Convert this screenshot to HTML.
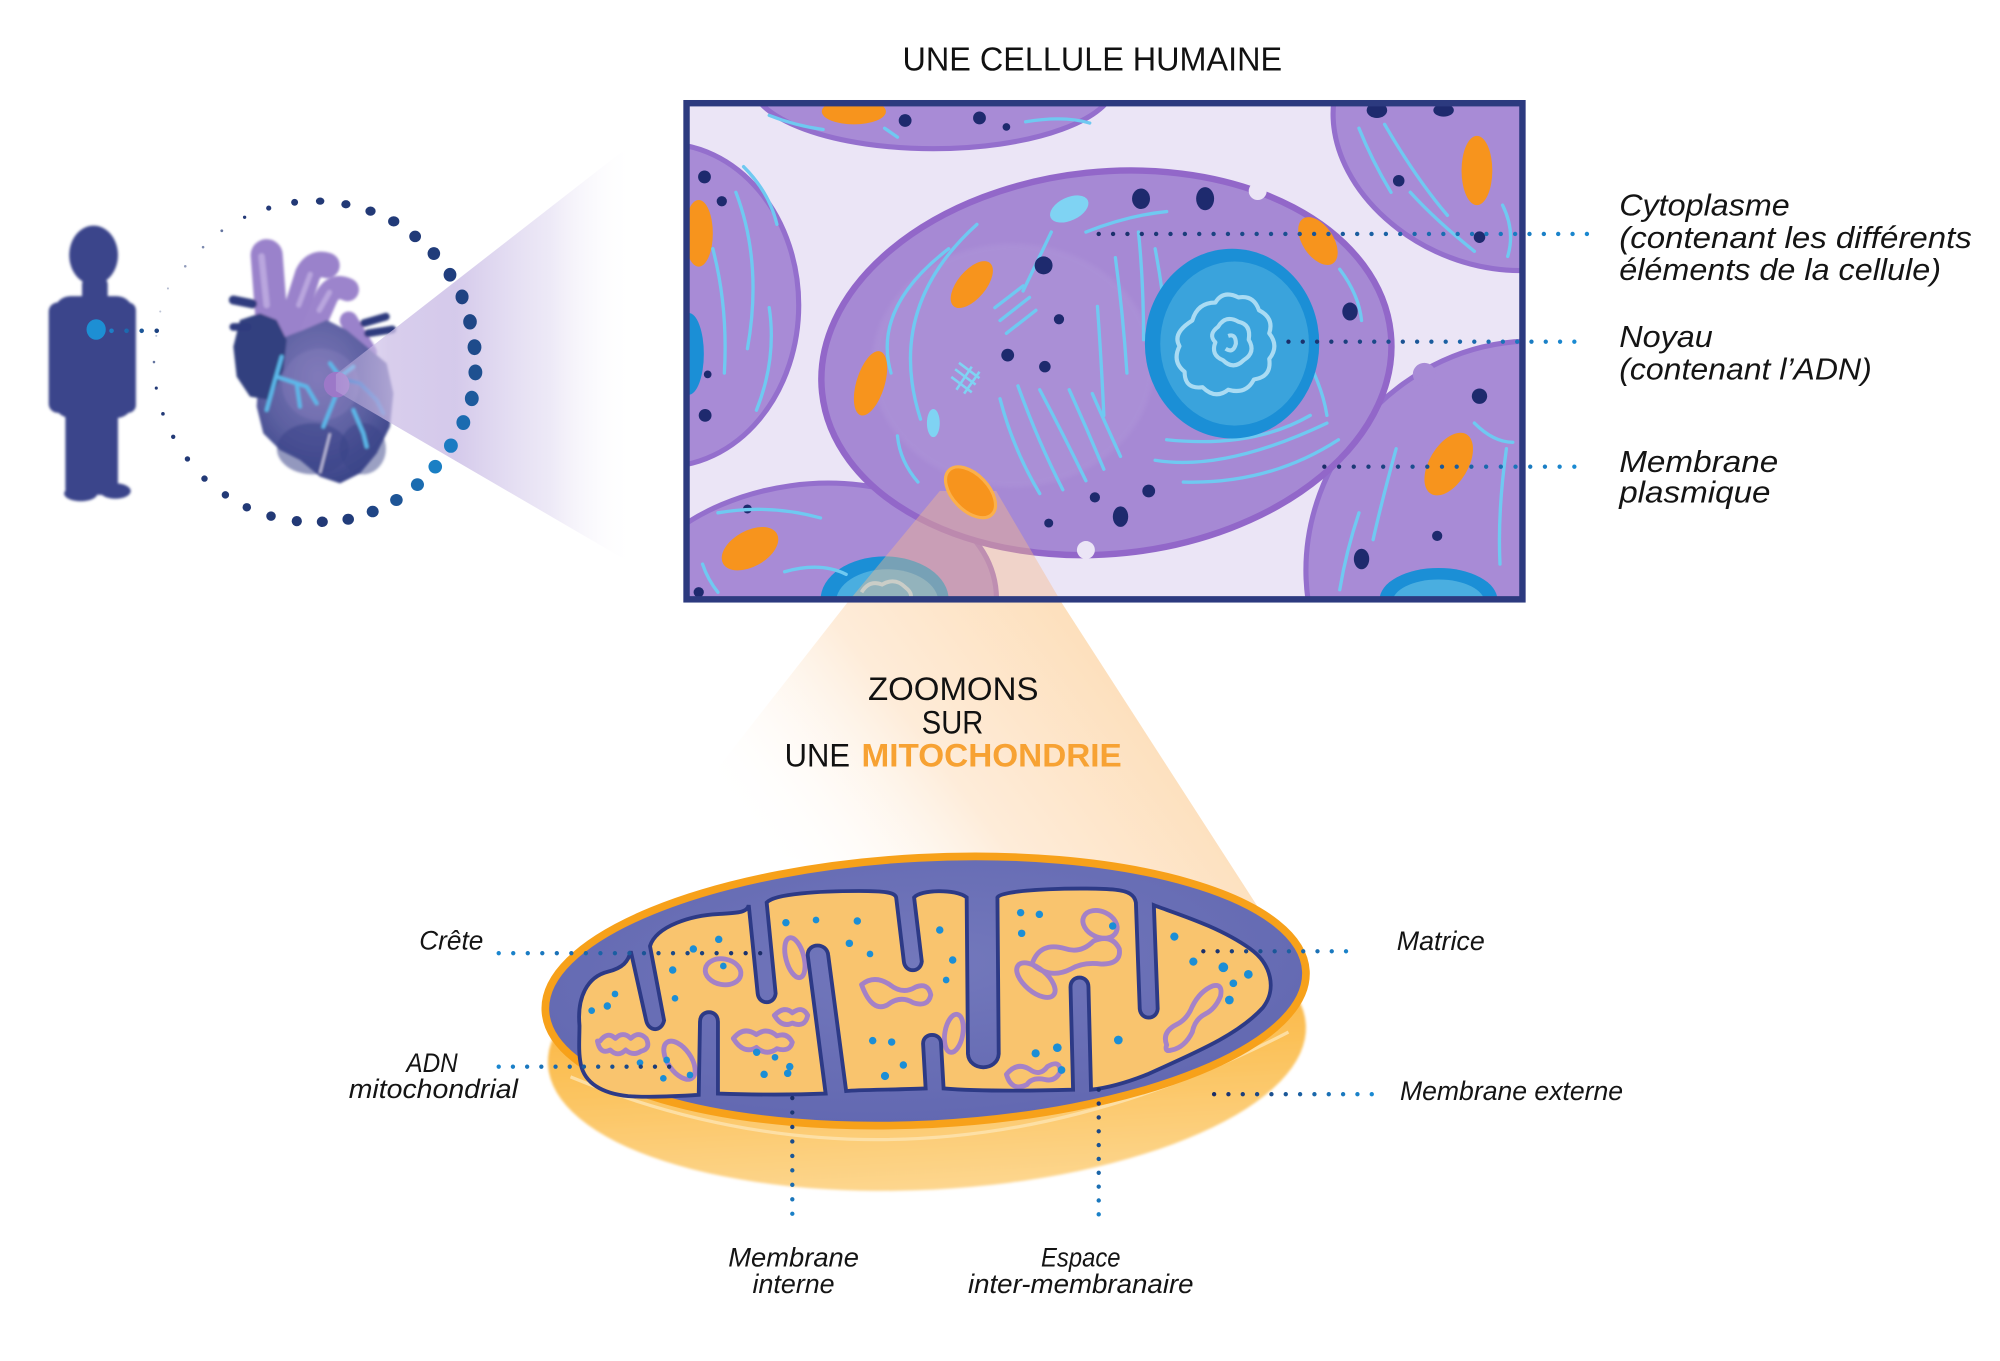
<!DOCTYPE html>
<html><head><meta charset="utf-8"><style>
html,body{margin:0;padding:0;background:#fff;}
svg{display:block;}
text{font-family:"Liberation Sans",sans-serif;}
.it{font-style:italic;fill:#141414;}
.tt{fill:#111;}
</style></head><body>
<svg width="2000" height="1361" viewBox="0 0 1560 1061.6" preserveAspectRatio="none" xmlns="http://www.w3.org/2000/svg">
<defs>
 <filter id="soft" x="-10%" y="-10%" width="120%" height="120%"><feGaussianBlur stdDeviation="1.1"/></filter>
 <filter id="soft2" x="-10%" y="-10%" width="120%" height="120%"><feGaussianBlur stdDeviation="1.8"/></filter>
 <linearGradient id="pcone" gradientUnits="userSpaceOnUse" x1="262" y1="0" x2="495" y2="0">
   <stop offset="0" stop-color="#c6b6e4" stop-opacity="0.35"/>
   <stop offset="0.18" stop-color="#cbbde6" stop-opacity="0.75"/>
   <stop offset="0.4" stop-color="#cdc0e7" stop-opacity="0.85"/>
   <stop offset="0.72" stop-color="#d8cfed" stop-opacity="0.45"/>
   <stop offset="1" stop-color="#ffffff" stop-opacity="0"/>
 </linearGradient>
 <linearGradient id="ocone" gradientUnits="userSpaceOnUse" x1="860" y1="500" x2="610" y2="690">
   <stop offset="0" stop-color="#fddfbb"/>
   <stop offset="0.5" stop-color="#feecd9"/>
   <stop offset="1" stop-color="#ffffff" stop-opacity="0"/>
 </linearGradient>
 <linearGradient id="bodyg" x1="0" y1="0" x2="0" y2="1">
   <stop offset="0" stop-color="#f8a526"/>
   <stop offset="0.55" stop-color="#fbc159"/>
   <stop offset="1" stop-color="#fdd68e"/>
 </linearGradient>
 <radialGradient id="heartg" cx="0.45" cy="0.35" r="0.65">
   <stop offset="0" stop-color="#7d77b7"/>
   <stop offset="0.6" stop-color="#5c60a1"/>
   <stop offset="1" stop-color="#3b4589"/>
 </radialGradient>
 <radialGradient id="imsg" cx="0.5" cy="0.4" r="0.6">
   <stop offset="0" stop-color="#7378bc"/>
   <stop offset="1" stop-color="#6268b1"/>
 </radialGradient>
 <linearGradient id="gCyto" gradientUnits="userSpaceOnUse" x1="857" y1="0" x2="1245" y2="0"><stop offset="0" stop-color="#1b2d68"/><stop offset="1" stop-color="#1a8ad2"/></linearGradient>
 <linearGradient id="gNoy" gradientUnits="userSpaceOnUse" x1="1005" y1="0" x2="1228" y2="0"><stop offset="0" stop-color="#1b2d68"/><stop offset="1" stop-color="#1a8ad2"/></linearGradient>
 <linearGradient id="gMem" gradientUnits="userSpaceOnUse" x1="1033" y1="0" x2="1228" y2="0"><stop offset="0" stop-color="#1b2d68"/><stop offset="1" stop-color="#1a8ad2"/></linearGradient>
 <linearGradient id="gCre" gradientUnits="userSpaceOnUse" x1="389" y1="0" x2="593" y2="0"><stop offset="0" stop-color="#1a86cf"/><stop offset="1" stop-color="#1b2d68"/></linearGradient>
 <linearGradient id="gAdn" gradientUnits="userSpaceOnUse" x1="389" y1="0" x2="533" y2="0"><stop offset="0" stop-color="#1a86cf"/><stop offset="1" stop-color="#1b2d68"/></linearGradient>
 <linearGradient id="gMat" gradientUnits="userSpaceOnUse" x1="938" y1="0" x2="1061" y2="0"><stop offset="0" stop-color="#1b2d68"/><stop offset="1" stop-color="#1a8ad2"/></linearGradient>
 <linearGradient id="gExt" gradientUnits="userSpaceOnUse" x1="947" y1="0" x2="1070" y2="0"><stop offset="0" stop-color="#1b2d68"/><stop offset="1" stop-color="#1a8ad2"/></linearGradient>
 <linearGradient id="gMI" gradientUnits="userSpaceOnUse" x1="0" y1="856" x2="0" y2="958"><stop offset="0" stop-color="#1b2d68"/><stop offset="1" stop-color="#1a8ad2"/></linearGradient>
 <linearGradient id="gEsp" gradientUnits="userSpaceOnUse" x1="0" y1="850" x2="0" y2="958"><stop offset="0" stop-color="#1b2d68"/><stop offset="1" stop-color="#1a8ad2"/></linearGradient>
 <linearGradient id="gPer" gradientUnits="userSpaceOnUse" x1="86" y1="0" x2="135" y2="0"><stop offset="0" stop-color="#1d80c8"/><stop offset="1" stop-color="#1b2d68"/></linearGradient>
 <clipPath id="boxclip"><rect x="535" y="80" width="653" height="388"/></clipPath>
 <path id="mxp" d="M452 800 C450 778 458 762 474 758 C486 755 490 750 492 742 L504 796 C506 805 516 805 518 796 L507 738 C512 722 540 714 560 713 C575 712 583 712 584 706 L591 775 C592 784 604 784 605 775 L598 704 C604 697 640 695 670 695 C690 695 698 696 699 700 L705 750 C706 759 718 759 719 750 L713 700 C718 694 745 693 754 700 L755 822 C756 836 778 836 779 822 L778 700 C782 693 850 692 870 694 C880 695 885 698 886 704 L889 787 C890 796 902 796 903 787 L900 706 C915 712 950 722 975 740 C992 752 996 772 985 786 C965 808 930 822 895 838 C875 846 860 849 851 850 L849 770 C849 760 835 760 835 770 L837 850 C800 851 760 851 736 849 L734 814 C734 805 720 805 720 814 L722 849 C700 850 670 850 660 851 L646 745 C645 735 630 735 630 745 L644 853 C620 854 590 854 560 853 L560 797 C560 787 546 787 546 797 L545 854 C530 855 505 856 490 855 C470 853 456 845 453 830 C451 820 452 810 452 800 Z"/>
 <clipPath id="mx"><use href="#mxp"/></clipPath>
</defs>

<rect x="0" y="0" width="1560" height="1062" fill="#ffffff"/>

<!-- PERSON -->
<g fill="#3a448b" filter="url(#soft)">
 <ellipse cx="73" cy="199" rx="19" ry="23"/>
 <rect x="64" y="216" width="20" height="22" rx="6"/>
 <rect x="42" y="231" width="62" height="95" rx="13"/>
 <rect x="38" y="236" width="16" height="86" rx="7"/>
 <rect x="92" y="236" width="14" height="86" rx="6"/>
 <rect x="51" y="300" width="22" height="88" rx="7"/>
 <rect x="70" y="300" width="22" height="86" rx="7"/>
 <ellipse cx="63" cy="385" rx="13" ry="6"/>
 <ellipse cx="90" cy="383" rx="12" ry="6"/>
</g>
<ellipse cx="75" cy="257" rx="7.5" ry="8" fill="#1d8fd4"/>
<line x1="87" y1="258" x2="134" y2="258" stroke="url(#gPer)" stroke-width="3.6" stroke-linecap="round" stroke-dasharray="0 11.75"/>

<!-- HEART -->
<g filter="url(#soft)">
 <path d="M208 199 L212 252" stroke="#9a82cb" stroke-width="25" stroke-linecap="round" fill="none"/>
 <path d="M226 258 L240 214 Q245 204 255 207" stroke="#9a82cb" stroke-width="20" stroke-linecap="round" stroke-linejoin="round" fill="none"/>
 <path d="M241 263 L255 231 Q261 221 271 226" stroke="#9c84cc" stroke-width="18" stroke-linecap="round" stroke-linejoin="round" fill="none"/>
 <path d="M272 250 L287 275" stroke="#9a82cb" stroke-width="14" stroke-linecap="round" fill="none"/>
 <path d="M204 200 L208 238" stroke="#b9a6de" stroke-width="5" stroke-linecap="round" fill="none"/>
 <path d="M233 238 L242 214" stroke="#b9a6de" stroke-width="4" stroke-linecap="round" fill="none"/>
 <path d="M249 242 L257 228" stroke="#b9a6de" stroke-width="4" stroke-linecap="round" fill="none"/>
 <polygon points="202.8,280.8 215.8,265.2 236.6,257.4 254.8,249.6 270.4,257.4 286,270.4 301.6,283.4 306.8,306.8 304.2,332.8 293.8,353.6 280.8,369.2 265.2,377 249.6,371.8 234,358.8 218.4,351 205.4,338 200.2,317.2 201.5,296.4" fill="url(#heartg)"/>
 <ellipse cx="250" cy="300" rx="30" ry="28" fill="#8a80bf" opacity="0.35"/>
 <ellipse cx="244" cy="350" rx="28" ry="20" fill="#3a4388" opacity="0.55"/>
 <ellipse cx="283" cy="350" rx="18" ry="20" fill="#3a4388" opacity="0.5"/>
 <polygon points="187.2,249.6 202.8,244.4 215.8,249.6 223.6,265.2 221,288.6 210.6,312 195,309.4 184.6,293.8 182,270.4" fill="#33407f"/>
 <path d="M182 234 L197 237" stroke="#2e3a7e" stroke-width="7" stroke-linecap="round"/>
 <path d="M182 255 L193 255" stroke="#2e3a7e" stroke-width="6" stroke-linecap="round"/>
 <path d="M284 252 L301 247" stroke="#2e3a7e" stroke-width="6" stroke-linecap="round"/>
 <path d="M287 260 L306 257" stroke="#2e3a7e" stroke-width="6" stroke-linecap="round"/>
 <path d="M257.4 338 L249.6 369" stroke="#c9c6e3" stroke-width="1.6"/>
 <g stroke="#5cb8ea" stroke-width="3" fill="none" stroke-linecap="round" stroke-linejoin="round">
  <path d="M219.7 278.2 L214.5 296.4 L208 319.8"/>
  <path d="M215.8 293.8 L231.4 299 L234 317.2"/>
  <path d="M223.6 296.4 L239.2 301.6 L247 314.6"/>
  <path d="M257.4 283.4 L265.2 293.8 L275.6 286"/>
  <path d="M262.6 306.8 L257.4 319.8 L252.2 332.8"/>
  <path d="M275.6 319.8 L283.4 338 L286 348.4"/>
 </g>
 <path d="M270.4 296.4 L280.8 299 L293.8 312 L299 322.4" stroke="#2f80cf" stroke-width="3" fill="none" stroke-linecap="round"/>
</g>
<circle cx="262.6" cy="300" r="10" fill="#9c78c8"/>

<!-- PURPLE CONE -->
<polygon points="262,292 533,81 533,463 262,305" fill="url(#pcone)"/>

<!-- DOTTED CIRCLE -->
<g>
 <circle cx="173" cy="180" r="1.1" fill="#243a78" opacity="0.7"/>
 <circle cx="158.4" cy="192.8" r="1" fill="#243a78" opacity="0.6"/>
 <circle cx="144.5" cy="207.7" r="1" fill="#243a78" opacity="0.5"/>
 <circle cx="131" cy="225" r="0.8" fill="#243a78" opacity="0.35"/>
 <circle cx="125" cy="243" r="0.8" fill="#243a78" opacity="0.3"/>
 <circle cx="121.9" cy="262" r="0.8" fill="#243a78" opacity="0.3"/>
 <circle cx="190.8" cy="169.5" r="1.3" fill="#243a78"/>
 <circle cx="209.6" cy="162.3" r="2" fill="#243a78"/>
 <circle cx="229.8" cy="157.8" r="2.7" fill="#223976"/>
 <ellipse cx="249.7" cy="156.9" rx="3.3" ry="2.8" fill="#223976"/>
 <ellipse cx="269.8" cy="159.3" rx="3.6" ry="3.2" fill="#223976"/>
 <ellipse cx="289" cy="164.7" rx="4" ry="3.6" fill="#223976"/>
 <ellipse cx="307.1" cy="172.7" rx="4.4" ry="4" fill="#213a78"/>
 <ellipse cx="323.8" cy="184.4" rx="4.6" ry="4.5" fill="#213a78"/>
 <ellipse cx="338.4" cy="197.8" rx="4.9" ry="5" fill="#213c7a"/>
 <ellipse cx="351" cy="214.3" rx="5" ry="5.4" fill="#203e7e"/>
 <ellipse cx="360.4" cy="231.6" rx="5.1" ry="5.8" fill="#1f4282"/>
 <ellipse cx="366.6" cy="251" rx="5.3" ry="6" fill="#1f4686"/>
 <ellipse cx="370.1" cy="270.8" rx="5.4" ry="6.2" fill="#1e4b8b"/>
 <ellipse cx="370.8" cy="290.5" rx="5.4" ry="6.2" fill="#1e5090"/>
 <ellipse cx="368" cy="310.8" rx="5.4" ry="6" fill="#1d5a9c"/>
 <ellipse cx="361.4" cy="329.6" rx="5.4" ry="5.8" fill="#1b6bb0"/>
 <ellipse cx="351.7" cy="347.6" rx="5.4" ry="5.6" fill="#1a7bc2"/>
 <ellipse cx="339.5" cy="364" rx="5.3" ry="5.3" fill="#1a7fc4"/>
 <ellipse cx="325.6" cy="378" rx="5.1" ry="5" fill="#1b6cb0"/>
 <ellipse cx="309.2" cy="390" rx="4.9" ry="4.7" fill="#1e5596"/>
 <ellipse cx="290.7" cy="399" rx="4.7" ry="4.5" fill="#1f4585"/>
 <ellipse cx="271.6" cy="405" rx="4.5" ry="4.3" fill="#213c7a"/>
 <ellipse cx="251.4" cy="407" rx="4.3" ry="4.1" fill="#223976"/>
 <circle cx="231.5" cy="406.5" r="4" fill="#223976"/>
 <circle cx="211.4" cy="402.6" r="3.7" fill="#223976"/>
 <circle cx="192.5" cy="395.7" r="3.3" fill="#223976"/>
 <circle cx="175.8" cy="386" r="2.9" fill="#223976"/>
 <circle cx="159.5" cy="373.3" r="2.5" fill="#223976"/>
 <circle cx="146.2" cy="358" r="2.1" fill="#223976"/>
 <circle cx="135.1" cy="340.7" r="1.7" fill="#223976"/>
 <circle cx="127.1" cy="322.8" r="1.4" fill="#223976"/>
 <circle cx="121.9" cy="302.7" r="1.2" fill="#223976"/>
 <circle cx="120.1" cy="282.4" r="1" fill="#223976" opacity="0.7"/>
</g>

<!-- TITLE -->
<text x="704" y="55" font-size="26" textLength="296" lengthAdjust="spacingAndGlyphs" class="tt">UNE CELLULE HUMAINE</text>

<!-- ORANGE CONE (below box) -->
<polygon points="661,470 828,470 1006,746 520,650" fill="url(#ocone)"/>

<!-- CELL BOX -->
<g clip-path="url(#boxclip)">
 <rect x="535" y="80" width="653" height="388" fill="#ebe5f6"/>

 <!-- top cell -->
 <ellipse cx="728" cy="64" rx="142" ry="52" fill="#a88bd6" stroke="#946fcd" stroke-width="4"/>
 <ellipse cx="666" cy="87" rx="25" ry="10" fill="#f7941d"/>
 <circle cx="706" cy="94" r="5" fill="#1e2a6e"/>
 <circle cx="764" cy="92" r="5" fill="#1e2a6e"/>
 <circle cx="785" cy="99" r="3" fill="#1e2a6e"/>
 <g stroke="#6fc9f1" stroke-width="2.6" fill="none" stroke-linecap="round">
  <path d="M600 90 Q620 98 642 101"/><path d="M800 95 Q830 90 850 96"/><path d="M690 100 L700 107"/>
 </g>

 <!-- left cell -->
 <ellipse cx="518" cy="238" rx="105" ry="126" fill="#a88bd6" stroke="#946fcd" stroke-width="4"/>
 <ellipse cx="545" cy="182" rx="11" ry="26" fill="#f7941d"/>
 <ellipse cx="537" cy="276" rx="12" ry="32" fill="#1b8fd6"/>
 <circle cx="549.5" cy="138" r="5" fill="#1e2a6e"/>
 <circle cx="563" cy="157" r="4" fill="#1e2a6e"/>
 <circle cx="550" cy="324" r="5" fill="#1e2a6e"/>
 <circle cx="552" cy="292" r="3" fill="#1e2a6e"/>
 <g stroke="#6fc9f1" stroke-width="2.6" fill="none" stroke-linecap="round">
  <path d="M574 150 Q595 205 583 272"/><path d="M556 194 Q568 240 565 291"/><path d="M600 240 Q606 280 590 320"/><path d="M580 130 Q600 150 606 175"/>
 </g>

 <!-- top-right cell -->
 <ellipse cx="1160" cy="110" rx="125" ry="95" transform="rotate(25 1160 110)" fill="#a88bd6" stroke="#946fcd" stroke-width="4"/>
 <ellipse cx="1152" cy="133" rx="12" ry="27" fill="#f7941d"/>
 <ellipse cx="1074" cy="86" rx="8" ry="6" fill="#1e2a6e"/>
 <ellipse cx="1126" cy="86" rx="8" ry="5" fill="#1e2a6e"/>
 <circle cx="1091" cy="141" r="4.5" fill="#1e2a6e"/>
 <circle cx="1154" cy="185" r="4.5" fill="#1e2a6e"/>
 <g stroke="#6fc9f1" stroke-width="2.6" fill="none" stroke-linecap="round">
  <path d="M1080 97 Q1105 140 1129 168"/><path d="M1100 150 Q1120 172 1150 196"/><path d="M1172 160 Q1182 180 1176 200"/><path d="M1060 100 Q1070 125 1085 150"/>
 </g>

 <!-- bottom-left cell -->
 <ellipse cx="630" cy="478" rx="148" ry="100" transform="rotate(-8 630 478)" fill="#a88bd6" stroke="#946fcd" stroke-width="4"/>
 <ellipse cx="585" cy="428" rx="24" ry="14" transform="rotate(-29 585 428)" fill="#f7941d"/>
 <ellipse cx="690" cy="468" rx="50" ry="34" fill="#1b8fd6"/>
 <ellipse cx="692" cy="470" rx="40" ry="26" fill="#4aaee0"/>
 <path d="M672 462 q6 -10 16 -6 q10 -6 18 2 q8 6 2 12" stroke="#a9dbf3" stroke-width="3" fill="none"/>
 <circle cx="583" cy="397" r="3.5" fill="#1e2a6e"/>
 <circle cx="545" cy="462" r="4" fill="#1e2a6e"/>
 <g stroke="#6fc9f1" stroke-width="2.6" fill="none" stroke-linecap="round">
  <path d="M560 400 Q600 393 640 404"/><path d="M612 446 Q640 438 660 448"/><path d="M548 440 Q552 452 560 462"/>
 </g>

 <!-- right-bottom cell -->
 <ellipse cx="1180" cy="430" rx="170" ry="155" transform="rotate(-50 1180 430)" fill="#a88bd6" stroke="#946fcd" stroke-width="4"/>
 <circle cx="1111" cy="292" r="9" fill="#a88bd6"/>
 <ellipse cx="1130" cy="362" rx="27" ry="15" transform="rotate(121 1130 362)" fill="#f7941d"/>
 <ellipse cx="1122" cy="468" rx="46" ry="25" fill="#1b8fd6"/>
 <ellipse cx="1122" cy="470" rx="36" ry="18" fill="#4aaee0"/>
 <circle cx="1154" cy="309" r="6" fill="#1e2a6e"/>
 <ellipse cx="1062" cy="436" rx="6" ry="8" fill="#1e2a6e"/>
 <circle cx="1121" cy="418" r="4" fill="#1e2a6e"/>
 <g stroke="#6fc9f1" stroke-width="2.6" fill="none" stroke-linecap="round">
  <path d="M1089 350 Q1078 390 1071 421"/><path d="M1175 350 Q1168 400 1170 440"/><path d="M1060 400 Q1050 430 1045 460"/><path d="M1150 330 Q1165 345 1180 345"/>
 </g>

 <!-- MAIN CELL -->
 <ellipse cx="863" cy="283" rx="223" ry="149" transform="rotate(-6 863 283)" fill="#a689d4" stroke="#9267c9" stroke-width="5"/>
 <ellipse cx="790" cy="285" rx="110" ry="95" fill="#b39cdc" opacity="0.35" filter="url(#soft2)"/>
 <circle cx="981" cy="149" r="7" fill="#ebe5f6"/>
 <circle cx="847" cy="429" r="7" fill="#ebe5f6"/>

 <g stroke="#6fc9f1" stroke-width="2.6" fill="none" stroke-linecap="round">
  <path d="M762 175 Q690 240 718 327"/>
  <path d="M740 194 Q680 240 695 291"/>
  <path d="M820 181 L798 227"/>
  <path d="M776 240 L798 223"/><path d="M780 250 L803 232"/><path d="M785 260 L808 242"/>
  <path d="M780 311 Q790 350 811 385"/>
  <path d="M794 301 Q810 345 829 382"/>
  <path d="M811 304 Q830 340 847 375"/>
  <path d="M834 304 Q848 335 861 366"/>
  <path d="M852 307 Q862 330 874 356"/>
  <path d="M856 239 Q859 280 861 324"/>
  <path d="M870 201 Q876 245 879 291"/>
  <path d="M888 181 Q892 220 892 265"/>
  <path d="M901 194 Q907 225 910 259"/>
  <path d="M901 359 Q955 368 1035 330"/>
  <path d="M923 376 Q990 378 1044 343"/>
  <path d="M910 343 Q977 350 1022 324"/>
  <path d="M1022 285 Q1032 305 1035 324"/>
  <path d="M847 181 Q880 168 910 165"/>
  <path d="M700 340 Q702 360 716 376"/>
  <path d="M1045 210 Q1060 230 1062 250"/>
 </g>
 <g stroke="#7fd3f3" stroke-width="2" fill="none">
  <path d="M745 288 L761 300"/><path d="M742 294 L758 306"/><path d="M748 283 L764 295"/>
  <path d="M746 304 L758 286"/><path d="M752 307 L764 290"/>
 </g>
 <ellipse cx="834" cy="163" rx="16" ry="9" transform="rotate(-25 834 163)" fill="#7fd3f3"/>
 <ellipse cx="728" cy="330" rx="5" ry="11" fill="#7fd3f3"/>

 <!-- nucleus -->
 <ellipse cx="961" cy="268" rx="68" ry="74" fill="#1b8fd6"/>
 <ellipse cx="963" cy="268" rx="58" ry="64" fill="#3aa3dc"/>
 <g stroke="#a9dbf3" stroke-width="3.2" fill="none" stroke-linejoin="round">
  <path d="M930 250 q4 -14 18 -14 q6 -10 18 -4 q12 -2 16 10 q12 6 8 18 q8 10 0 20 q2 14 -12 16 q-6 12 -20 8 q-10 8 -20 -2 q-14 2 -14 -12 q-10 -8 -4 -20 q-6 -10 10 -20z"/>
  <path d="M950 255 q6 -10 16 -4 q10 2 8 14 q6 10 -4 16 q-8 8 -16 0 q-10 -4 -6 -14 q-6 -6 2 -12z"/>
  <path d="M958 262 q6 -2 6 6 q-2 8 -8 4"/>
 </g>

 <!-- dark dots -->
 <g fill="#1e2a6e">
  <ellipse cx="890" cy="155" rx="7" ry="8"/>
  <ellipse cx="940" cy="155" rx="7" ry="9"/>
  <circle cx="814" cy="207" r="7"/>
  <ellipse cx="1053" cy="243" rx="6" ry="7"/>
  <circle cx="826" cy="249" r="4"/>
  <circle cx="786" cy="277" r="5"/>
  <circle cx="815" cy="286" r="4.5"/>
  <circle cx="896" cy="383" r="5"/>
  <ellipse cx="874" cy="403" rx="6" ry="8"/>
  <circle cx="854" cy="388" r="4"/>
  <circle cx="818" cy="408" r="3.5"/>
 </g>

 <!-- mitochondria main cell -->
 <ellipse cx="1028" cy="188" rx="21" ry="12" transform="rotate(56 1028 188)" fill="#f7941d"/>
 <ellipse cx="758" cy="222" rx="22" ry="11" transform="rotate(-50 758 222)" fill="#f7941d"/>
 <ellipse cx="679" cy="299" rx="26" ry="11" transform="rotate(107 679 299)" fill="#f7941d"/>

 <!-- orange overlay cone inside box -->
 <polygon points="733,383 777,383 828,470 661,470" fill="#f7b98a" opacity="0.42"/>
 <ellipse cx="757" cy="384" rx="24" ry="14" transform="rotate(46 757 384)" fill="#f7941d" stroke="#fbb04a" stroke-width="2.5"/>
</g>
<rect x="535.5" y="80.5" width="652" height="387" fill="none" stroke="#2c3a7f" stroke-width="5"/>

<!-- right dotted connectors -->
<line x1="857" y1="182.5" x2="1245" y2="182.5" stroke="url(#gCyto)" stroke-width="3.4" stroke-linecap="round" stroke-dasharray="0 11.2"/>
<line x1="1005" y1="266.5" x2="1228" y2="266.5" stroke="url(#gNoy)" stroke-width="3.4" stroke-linecap="round" stroke-dasharray="0 11.15"/>
<line x1="1033" y1="364" x2="1228" y2="364" stroke="url(#gMem)" stroke-width="3.4" stroke-linecap="round" stroke-dasharray="0 11.47"/>

<!-- right labels -->
<text class="it" x="1263" y="168" font-size="24" textLength="133" lengthAdjust="spacingAndGlyphs">Cytoplasme</text>
<text class="it" x="1263" y="193.5" font-size="24" textLength="275" lengthAdjust="spacingAndGlyphs">(contenant les différents</text>
<text class="it" x="1263" y="218.5" font-size="24" textLength="251" lengthAdjust="spacingAndGlyphs">éléments de la cellule)</text>
<text class="it" x="1263" y="270.5" font-size="24" textLength="73" lengthAdjust="spacingAndGlyphs">Noyau</text>
<text class="it" x="1263" y="296" font-size="24" textLength="197" lengthAdjust="spacingAndGlyphs">(contenant l’ADN)</text>
<text class="it" x="1263" y="368" font-size="24" textLength="124" lengthAdjust="spacingAndGlyphs">Membrane</text>
<text class="it" x="1263" y="392" font-size="24" textLength="118" lengthAdjust="spacingAndGlyphs">plasmique</text>

<!-- ZOOMONS text -->
<text class="tt" x="677" y="546" font-size="25" textLength="133" lengthAdjust="spacingAndGlyphs">ZOOMONS</text>
<text class="tt" x="719" y="572" font-size="25" textLength="48" lengthAdjust="spacingAndGlyphs">SUR</text>
<text class="tt" x="612" y="598" font-size="25" textLength="51" lengthAdjust="spacingAndGlyphs">UNE</text>
<text x="672" y="598" font-size="25" font-weight="bold" fill="#f7a233" textLength="203" lengthAdjust="spacingAndGlyphs">MITOCHONDRIE</text>

<!-- MITOCHONDRION -->
<ellipse cx="723" cy="815" rx="296" ry="113" transform="rotate(-3 723 815)" fill="url(#bodyg)" filter="url(#soft)"/>
<path d="M445 840 Q719 953 1005 805" stroke="#fde3ae" stroke-width="2.5" fill="none" opacity="0.85"/>
<ellipse cx="722" cy="773" rx="297" ry="104" transform="rotate(-3 722 773)" fill="url(#imsg)" stroke="#f7a11a" stroke-width="6"/>
<use href="#mxp" fill="#f9c46e"/>

<g clip-path="url(#mx)">
 <g stroke="#9b7bd1" stroke-width="3.8" fill="none" opacity="0.9" stroke-linejoin="round">
  <ellipse cx="564" cy="758" rx="14" ry="10" transform="rotate(10 564 758)"/>
  <ellipse cx="620" cy="747" rx="7" ry="16" transform="rotate(-15 620 747)"/>
  <path d="M468 812 q6 -8 12 -2 q6 -6 12 0 q6 -6 12 0 q4 8 -4 10 q-6 4 -12 -1 q-6 6 -12 0 q-8 4 -10 -7z"/>
  <ellipse cx="530" cy="827" rx="9" ry="17" transform="rotate(-35 530 827)"/>
  <path d="M572 810 q8 -10 18 -3 q8 -6 16 1 q8 -3 12 5 q-2 8 -12 5 q-8 6 -16 -1 q-10 6 -18 -7z"/>
  <path d="M604 792 q8 -8 14 -2 q8 -6 12 2 q-2 10 -12 6 q-8 4 -14 -6z"/>
  <path d="M672 768 q10 -8 22 0 q10 8 20 2 q10 -4 12 6 q-2 10 -14 6 q-10 -6 -20 2 q-12 6 -20 -16z"/>
  <ellipse cx="858" cy="721" rx="14" ry="10" transform="rotate(25 858 721)"/>
  <path d="M805 752 q6 -18 26 -12 q12 4 22 -6 q14 -6 20 6 q2 12 -14 12 q-14 -2 -24 4 q-16 8 -30 -4z"/>
  <ellipse cx="808" cy="764.5" rx="18" ry="9" transform="rotate(40 808 764.5)"/>
  <ellipse cx="744" cy="806" rx="7" ry="15" transform="rotate(10 744 806)"/>
  <path d="M910 815 q-4 -10 8 -16 q8 -4 12 -14 q6 -12 16 -16 q8 -2 6 8 q-4 10 -12 14 q-8 4 -10 14 q-6 12 -16 14 q-6 2 -4 -4z"/>
  <path d="M785 838 q8 -10 18 -4 q8 6 14 -2 q10 -6 10 4 q-4 8 -12 6 q-10 -2 -14 4 q-12 6 -16 -8z"/>
 </g>
 <g fill="#1b8ed6">
  <circle cx="613" cy="719.7" r="2.9"/><circle cx="636.5" cy="717.6" r="2.6"/><circle cx="668.7" cy="718.4" r="2.9"/>
  <circle cx="560.6" cy="732.7" r="2.9"/><circle cx="540.8" cy="740.2" r="2.9"/><circle cx="662.5" cy="735.8" r="2.9"/>
  <circle cx="678.6" cy="744.1" r="2.6"/><circle cx="733" cy="725.4" r="2.9"/><circle cx="524.7" cy="756.6" r="2.9"/>
  <circle cx="564.2" cy="753.5" r="2.6"/><circle cx="738" cy="764.4" r="2.6"/><circle cx="479.7" cy="775.3" r="2.6"/>
  <circle cx="473.7" cy="784.7" r="2.9"/><circle cx="461.5" cy="788.3" r="2.6"/><circle cx="526.5" cy="778.7" r="2.6"/>
  <circle cx="590.2" cy="820.8" r="2.9"/><circle cx="604.5" cy="824.7" r="2.6"/><circle cx="680.7" cy="811.7" r="2.9"/>
  <circle cx="695.5" cy="812.8" r="2.9"/><circle cx="704.6" cy="830.7" r="2.9"/><circle cx="690.3" cy="839.3" r="3.2"/>
  <circle cx="616" cy="832" r="2.9"/><circle cx="614.4" cy="837.2" r="2.9"/><circle cx="596" cy="838" r="2.9"/>
  <circle cx="538.2" cy="838.5" r="2.6"/><circle cx="520" cy="826.8" r="2.6"/><circle cx="499.2" cy="828.9" r="2.6"/>
  <circle cx="517.4" cy="841.1" r="2.6"/>
  <circle cx="796.1" cy="711.9" r="2.9"/><circle cx="810.7" cy="713.2" r="2.9"/><circle cx="796.9" cy="728" r="2.9"/>
  <circle cx="743.1" cy="748.8" r="2.9"/><circle cx="867.9" cy="722.3" r="2.9"/>
  <circle cx="916" cy="730.6" r="3.2"/><circle cx="930.8" cy="750.1" r="3.2"/><circle cx="954.2" cy="754.5" r="3.8"/>
  <circle cx="973.7" cy="760" r="3.4"/><circle cx="962" cy="767" r="3"/><circle cx="958.9" cy="780" r="3.4"/>
  <circle cx="872.3" cy="811.2" r="3.4"/><circle cx="824.7" cy="817.2" r="3.4"/><circle cx="807.8" cy="821.6" r="3.2"/>
  <circle cx="828" cy="834.6" r="3"/>
 </g>
</g>
<use href="#mxp" fill="none" stroke="#2d3a86" stroke-width="3"/>

<!-- mito connectors -->
<line x1="389" y1="743.5" x2="593" y2="743.5" stroke="url(#gCre)" stroke-width="3.4" stroke-linecap="round" stroke-dasharray="0 11.33"/>
<line x1="389" y1="832" x2="533" y2="832" stroke="url(#gAdn)" stroke-width="3.4" stroke-linecap="round" stroke-dasharray="0 11.08"/>
<line x1="938.6" y1="742" x2="1061" y2="742" stroke="url(#gMat)" stroke-width="3.4" stroke-linecap="round" stroke-dasharray="0 11.13"/>
<line x1="947" y1="853.5" x2="1070" y2="853.5" stroke="url(#gExt)" stroke-width="3.4" stroke-linecap="round" stroke-dasharray="0 11.18"/>
<line x1="618" y1="856.5" x2="618" y2="958" stroke="url(#gMI)" stroke-width="3.4" stroke-linecap="round" stroke-dasharray="0 11.28"/>
<line x1="857" y1="850" x2="857" y2="958" stroke="url(#gEsp)" stroke-width="3.4" stroke-linecap="round" stroke-dasharray="0 10.8"/>

<!-- mito labels -->
<text class="it" x="327" y="740.5" font-size="21" textLength="50" lengthAdjust="spacingAndGlyphs">Crête</text>
<text class="it" x="317" y="836" font-size="21" textLength="40" lengthAdjust="spacingAndGlyphs">ADN</text>
<text class="it" x="272" y="856.5" font-size="21" textLength="132" lengthAdjust="spacingAndGlyphs">mitochondrial</text>
<text class="it" x="568" y="988" font-size="21" textLength="102" lengthAdjust="spacingAndGlyphs">Membrane</text>
<text class="it" x="587" y="1008.5" font-size="21" textLength="64" lengthAdjust="spacingAndGlyphs">interne</text>
<text class="it" x="812" y="988" font-size="21" textLength="62" lengthAdjust="spacingAndGlyphs">Espace</text>
<text class="it" x="755" y="1008.5" font-size="21" textLength="176" lengthAdjust="spacingAndGlyphs">inter-membranaire</text>
<text class="it" x="1089.5" y="741" font-size="21" textLength="68.6" lengthAdjust="spacingAndGlyphs">Matrice</text>
<text class="it" x="1092" y="858" font-size="21" textLength="174" lengthAdjust="spacingAndGlyphs">Membrane externe</text>
</svg>
</body></html>
